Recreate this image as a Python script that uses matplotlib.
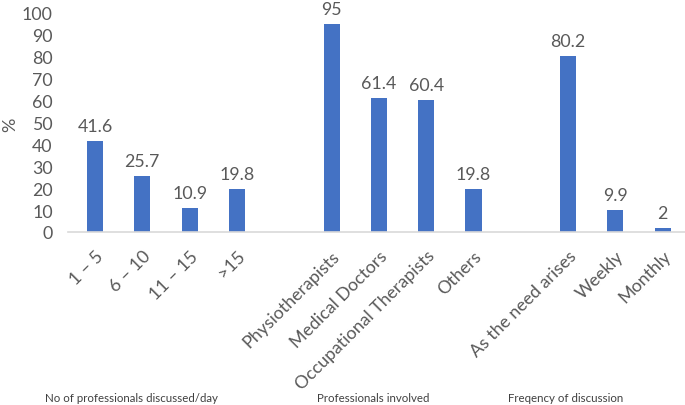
import matplotlib
matplotlib.use("Agg")
import matplotlib.pyplot as plt

plt.rcParams['font.family'] = ['Lato', 'DejaVu Sans']

# chart data
labels = ['1 – 5', '6 – 10', '11 – 15', '>15',
          'Physiotherapists', 'Medical Doctors', 'Occupational Therapists', 'Others',
          'As the need arises', 'Weekly', 'Monthly']
values = [41.6, 25.7, 10.9, 19.8, 95, 61.4, 60.4, 19.8, 80.2, 9.9, 2]
value_text = ['41.6', '25.7', '10.9', '19.8', '95', '61.4', '60.4', '19.8', '80.2', '9.9', '2']
positions = [0, 1, 2, 3, 5, 6, 7, 8, 10, 11, 12]
group_names = ['No of professionals discussed/day', 'Professionals involved', 'Freqency of discussion']

text_col = '#595959'
bar_col = '#4472C4'

fig = plt.figure(figsize=(6.85, 4.06), dpi=100)
ax = fig.add_axes([68/685, 1 - 233/406, 1 - 68/685, (233 - 14)/406])

ax.bar(positions, values, width=0.34, color=bar_col)
for x, v, t in zip(positions, values, value_text):
    ax.annotate(t, (x, v), xytext=(0, 5), textcoords='offset points',
                ha='center', va='bottom', fontsize=12.8, color=text_col)

ax.set_xlim(-0.57, 12.47)
ax.set_ylim(0, 100)
ax.set_yticks(range(0, 101, 10))
ax.set_xticks(positions)
ax.set_xticklabels(labels, rotation=45, ha='right', rotation_mode='anchor')
ax.tick_params(axis='x', length=0, pad=11, labelsize=12.8, labelcolor=text_col)
ax.tick_params(axis='y', length=0, pad=11, labelsize=12.8, labelcolor=text_col)
for s in ['top', 'right', 'left']:
    ax.spines[s].set_visible(False)
ax.spines['bottom'].set_color('#D9D9D9')
ax.spines['bottom'].set_linewidth(1.2)

fig.text(10/685, 1 - 125/406, '%', rotation=90, ha='center', va='center',
         fontsize=13, color=text_col)

group_x = [131, 373, 566]
for gx, name in zip(group_x, group_names):
    fig.text(gx/685, 1 - 399/406, name, ha='center', va='center',
             fontsize=8.3, color='#404040')

fig.savefig('out.png', dpi=100)
